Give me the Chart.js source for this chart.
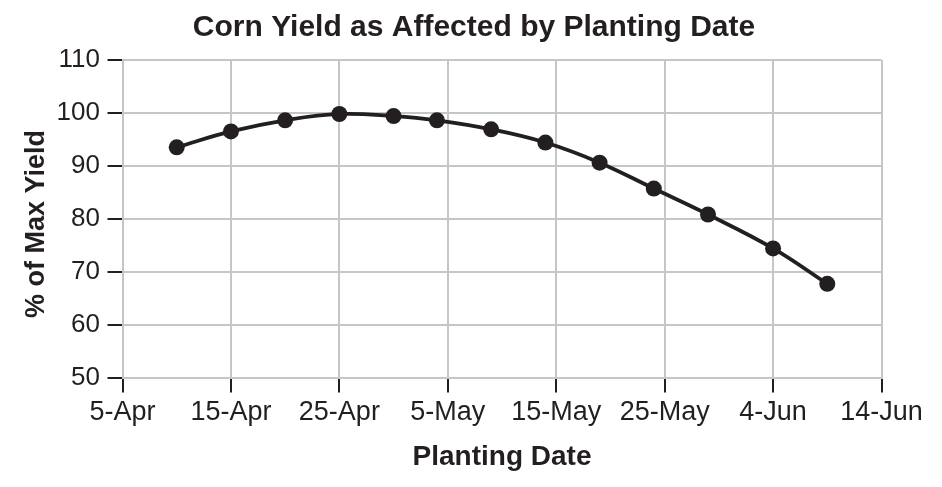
<!DOCTYPE html>
<html>
<head>
<meta charset="utf-8">
<script src="https://cdn.jsdelivr.net/npm/chart.js@4.4.1/dist/chart.umd.min.js"></script>
<style>
  html, body { margin: 0; padding: 0; background: #fff; }
  #wrap { width: 942px; height: 487px; position: relative; }
</style>
</head>
<body>
<div id="wrap"><canvas id="yield-chart"></canvas></div>
<script>
// Data (x = days after 5-Apr)
const plantingDays = [5, 10, 15, 20, 25, 29, 34, 39, 44, 49, 54, 60, 65];
const pctMaxYield = [93.5, 96.5, 98.6, 99.8, 99.4, 98.6, 96.9, 94.4, 90.6, 85.7, 80.8, 74.4, 67.7];
const dateTickLabels = ["5-Apr", "15-Apr", "25-Apr", "5-May", "15-May", "25-May", "4-Jun", "14-Jun"];
const yieldTicks = [50, 60, 70, 80, 90, 100, 110];

const chartTitle = "Corn Yield as Affected by Planting Date";
const yAxisTitle = "% of Max Yield";
const xAxisTitle = "Planting Date";

const ink = "#231f20";
const gridGray = "#c6c6c6";
const fontFamily = "'Liberation Sans', Arial, Helvetica, sans-serif";

const points = plantingDays.map((d, i) => ({ x: d, y: pctMaxYield[i] }));

// Title and y title are drawn by hand so they sit where the reference puts them
// (the reference title is not centred on the canvas or plot area)
const freeTextPlugin = {
  id: "freeText",
  afterDraw(chart) {
    const c = chart.ctx;
    c.save();
    c.fillStyle = ink;
    c.textAlign = "center";
    c.textBaseline = "middle";
    c.font = `bold 30px ${fontFamily}`;
    c.fillText(chartTitle, 474, 28);
    c.translate(36.5, 224);
    c.rotate(-Math.PI / 2);
    c.font = `bold 27px ${fontFamily}`;
    c.fillText(yAxisTitle, 0, 0);
    c.restore();
  },
};

const ctx = document.getElementById("yield-chart").getContext("2d");

new Chart(ctx, {
  type: "line",
  data: {
    datasets: [
      {
        label: yAxisTitle,
        data: points,
        borderColor: ink,
        borderWidth: 3.8,
        tension: 0.4,
        pointRadius: 8,
        pointHoverRadius: 8,
        pointBackgroundColor: ink,
        pointBorderWidth: 0,
        fill: false,
      },
    ],
  },
  options: {
    responsive: true,
    maintainAspectRatio: false,
    animation: false,
    layout: { padding: { left: 0, right: 60.5, top: 60, bottom: 0 } },
    scales: {
      x: {
        type: "linear",
        min: 0,
        max: 70,
        afterFit: (scale) => { scale.height = 109.5; },
        afterBuildTicks: (scale) => {
          scale.ticks = dateTickLabels.map((_, i) => ({ value: i * 10 }));
        },
        grid: {
          color: gridGray,
          lineWidth: 2,
          tickColor: ink,
          tickWidth: 2,
          tickLength: 15,
        },
        border: { display: true, color: gridGray, width: 2 },
        ticks: {
          color: ink,
          padding: 4,
          maxRotation: 0,
          autoSkip: false,
          font: { family: fontFamily, size: 27 },
          callback: (val) => dateTickLabels[Math.round(val / 10)] ?? "",
        },
        title: {
          display: true,
          text: xAxisTitle,
          color: ink,
          font: { family: fontFamily, size: 28, weight: "bold" },
          padding: { top: 13, bottom: 13 },
        },
      },
      y: {
        min: 50,
        max: 110,
        afterFit: (scale) => { scale.width = 122.5; },
        afterBuildTicks: (scale) => {
          scale.ticks = yieldTicks.map((v) => ({ value: v }));
        },
        grid: {
          color: gridGray,
          lineWidth: 2,
          tickColor: ink,
          tickWidth: 2,
          tickLength: 15,
        },
        border: { display: true, color: gridGray, width: 2 },
        ticks: {
          color: ink,
          padding: 7.5,
          font: { family: fontFamily, size: 26 },
        },
      },
    },
    plugins: {
      legend: { display: false },
      tooltip: { enabled: false },
      title: { display: false },
    },
  },
  plugins: [freeTextPlugin],
});
</script>
</body>
</html>
